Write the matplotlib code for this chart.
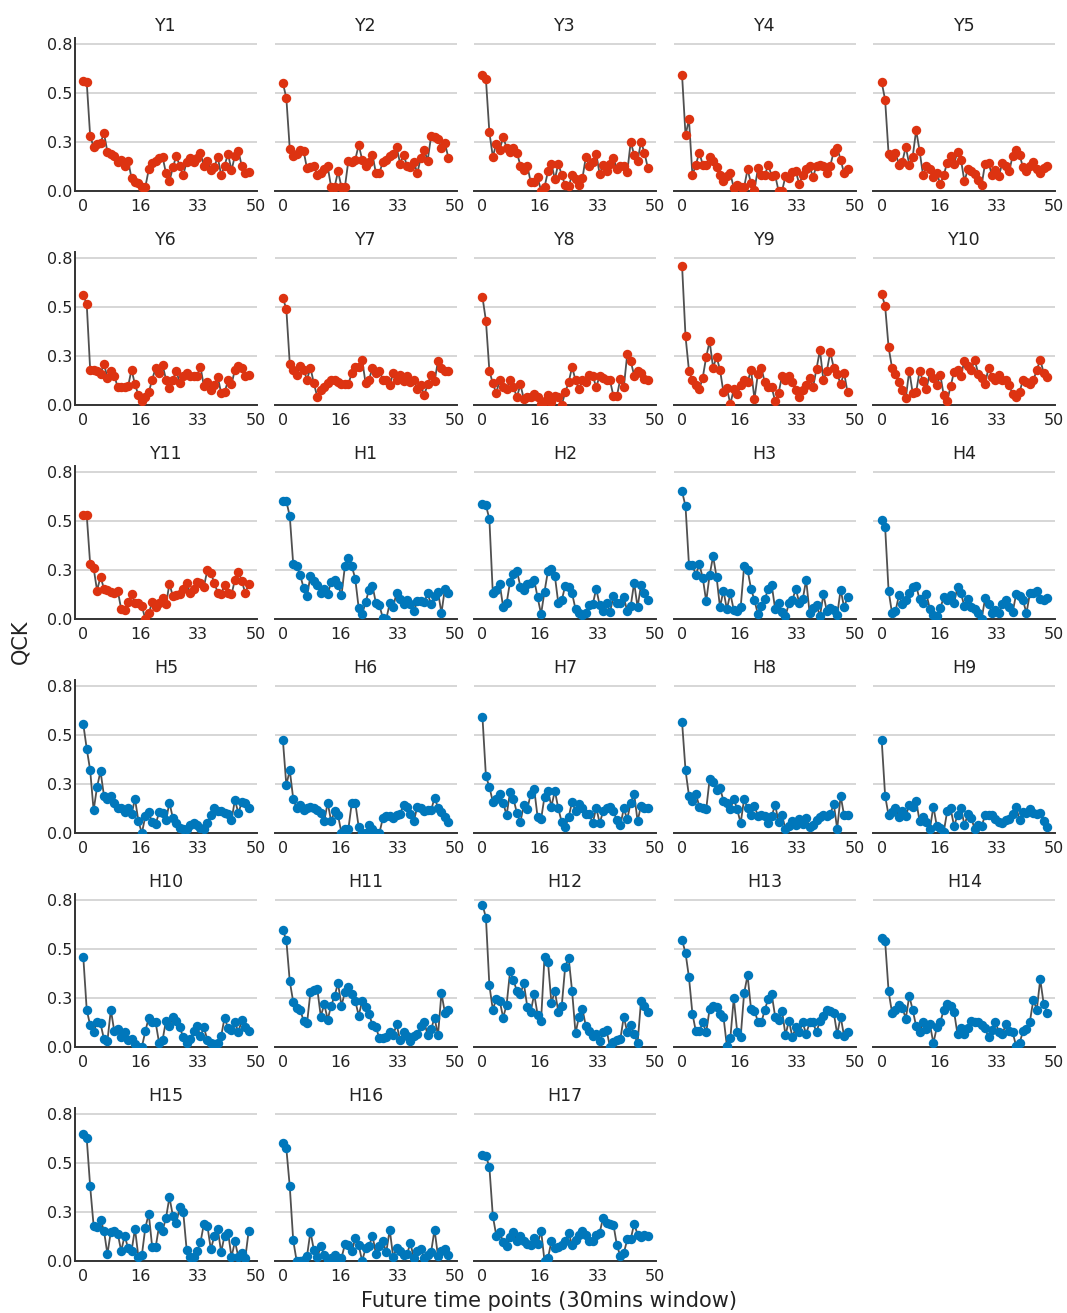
import numpy as np
import matplotlib.pyplot as plt

plt.rcParams['font.family'] = ['DejaVu Sans']

# QCK for future time points 0..48, one list per subject
Y1 = [0.56, 0.555, 0.28, 0.225, 0.24, 0.245, 0.295, 0.20, 0.19, 0.18,
      0.15, 0.16, 0.125, 0.155, 0.065, 0.045, 0.04, 0.02, 0.02, 0.11,
      0.145, 0.155, 0.17, 0.175, 0.09, 0.05, 0.12, 0.18, 0.125, 0.08,
      0.15, 0.17, 0.15, 0.17, 0.195, 0.125, 0.155, 0.105, 0.12, 0.175,
      0.08, 0.13, 0.19, 0.105, 0.18, 0.205, 0.125, 0.09, 0.095]
Y2 = [0.55, 0.475, 0.215, 0.18, 0.19, 0.21, 0.205, 0.115, 0.12, 0.13,
      0.08, 0.09, 0.11, 0.125, 0.02, 0.02, 0.10, 0.02, 0.02, 0.155,
      0.15, 0.16, 0.235, 0.16, 0.13, 0.15, 0.185, 0.09, 0.09, 0.15,
      0.16, 0.18, 0.19, 0.225, 0.14, 0.185, 0.13, 0.12, 0.15, 0.09,
      0.17, 0.21, 0.155, 0.28, 0.275, 0.265, 0.22, 0.245, 0.17]
Y3 = [0.59, 0.57, 0.30, 0.175, 0.24, 0.21, 0.275, 0.22, 0.20, 0.22,
      0.195, 0.13, 0.105, 0.13, 0.045, 0.045, 0.07, 0.0, 0.02, 0.10,
      0.14, 0.06, 0.14, 0.08, 0.03, 0.025, 0.08, 0.06, 0.03, 0.065,
      0.175, 0.125, 0.15, 0.19, 0.085, 0.135, 0.10, 0.14, 0.17, 0.11,
      0.13, 0.13, 0.095, 0.25, 0.185, 0.155, 0.25, 0.195, 0.115]
Y4 = [0.59, 0.285, 0.365, 0.08, 0.135, 0.195, 0.135, 0.135, 0.175, 0.155,
      0.12, 0.08, 0.05, 0.075, 0.09, 0.015, 0.03, 0.02, 0.02, 0.11,
      0.04, 0.005, 0.115, 0.08, 0.08, 0.135, 0.075, 0.08, 0.0, 0.0,
      0.075, 0.065, 0.095, 0.10, 0.035, 0.08, 0.11, 0.125, 0.07, 0.13,
      0.135, 0.13, 0.09, 0.13, 0.20, 0.22, 0.16, 0.09, 0.11]
Y5 = [0.555, 0.465, 0.19, 0.175, 0.195, 0.135, 0.15, 0.225, 0.135, 0.175,
      0.31, 0.205, 0.08, 0.125, 0.11, 0.07, 0.09, 0.035, 0.08, 0.145,
      0.18, 0.14, 0.20, 0.16, 0.05, 0.11, 0.10, 0.085, 0.055, 0.03,
      0.14, 0.145, 0.08, 0.105, 0.075, 0.145, 0.125, 0.10, 0.18, 0.21,
      0.185, 0.12, 0.10, 0.13, 0.15, 0.11, 0.09, 0.115, 0.13]
Y6 = [0.56, 0.515, 0.18, 0.18, 0.175, 0.16, 0.21, 0.14, 0.175, 0.15,
      0.09, 0.09, 0.09, 0.095, 0.18, 0.105, 0.05, 0.02, 0.04, 0.065,
      0.13, 0.19, 0.165, 0.205, 0.13, 0.085, 0.13, 0.175, 0.11, 0.15,
      0.165, 0.15, 0.15, 0.15, 0.195, 0.095, 0.115, 0.075, 0.10, 0.145,
      0.06, 0.065, 0.125, 0.105, 0.18, 0.20, 0.19, 0.15, 0.155]
Y7 = [0.545, 0.49, 0.21, 0.18, 0.155, 0.20, 0.18, 0.13, 0.19, 0.11,
      0.04, 0.075, 0.09, 0.11, 0.125, 0.125, 0.115, 0.105, 0.105, 0.105,
      0.165, 0.195, 0.195, 0.23, 0.11, 0.13, 0.19, 0.165, 0.175, 0.13,
      0.13, 0.10, 0.165, 0.13, 0.155, 0.12, 0.15, 0.115, 0.13, 0.08,
      0.10, 0.05, 0.105, 0.155, 0.12, 0.225, 0.19, 0.175, 0.175]
Y8 = [0.55, 0.43, 0.175, 0.11, 0.06, 0.13, 0.09, 0.08, 0.13, 0.09,
      0.04, 0.105, 0.03, 0.04, 0.04, 0.055, 0.04, 0.005, 0.02, 0.05,
      0.015, 0.045, 0.04, 0.0, 0.065, 0.115, 0.195, 0.125, 0.08, 0.125,
      0.115, 0.155, 0.15, 0.09, 0.15, 0.14, 0.13, 0.125, 0.045, 0.045,
      0.135, 0.09, 0.26, 0.225, 0.15, 0.175, 0.165, 0.135, 0.13]
Y9 = [0.71, 0.35, 0.175, 0.125, 0.10, 0.08, 0.14, 0.245, 0.325, 0.19,
      0.245, 0.18, 0.065, 0.085, 0.005, 0.08, 0.055, 0.10, 0.125, 0.115,
      0.18, 0.03, 0.16, 0.19, 0.115, 0.09, 0.09, 0.02, 0.06, 0.15,
      0.125, 0.15, 0.115, 0.075, 0.04, 0.075, 0.10, 0.14, 0.09, 0.185,
      0.28, 0.125, 0.175, 0.27, 0.19, 0.16, 0.105, 0.165, 0.065]
Y10 = [0.565, 0.505, 0.295, 0.19, 0.16, 0.115, 0.075, 0.035, 0.175, 0.06,
       0.065, 0.175, 0.12, 0.08, 0.17, 0.14, 0.10, 0.155, 0.05, 0.02,
       0.095, 0.17, 0.18, 0.15, 0.225, 0.20, 0.18, 0.23, 0.16, 0.14,
       0.105, 0.19, 0.145, 0.125, 0.155, 0.125, 0.13, 0.10, 0.055, 0.04,
       0.065, 0.13, 0.115, 0.105, 0.125, 0.18, 0.23, 0.165, 0.145]
Y11 = [0.53, 0.53, 0.28, 0.26, 0.145, 0.215, 0.155, 0.15, 0.14, 0.135,
       0.145, 0.05, 0.045, 0.085, 0.125, 0.08, 0.08, 0.065, 0.0, 0.03,
       0.085, 0.06, 0.08, 0.105, 0.075, 0.18, 0.115, 0.12, 0.125, 0.155,
       0.185, 0.13, 0.155, 0.19, 0.185, 0.165, 0.25, 0.235, 0.185, 0.135,
       0.125, 0.175, 0.135, 0.125, 0.20, 0.24, 0.195, 0.13, 0.18]
H1 = [0.60, 0.60, 0.525, 0.28, 0.27, 0.225, 0.16, 0.115, 0.22, 0.195,
      0.175, 0.135, 0.155, 0.125, 0.19, 0.20, 0.175, 0.12, 0.27, 0.31,
      0.27, 0.205, 0.055, 0.025, 0.085, 0.15, 0.17, 0.08, 0.07, 0.005,
      0.0, 0.08, 0.06, 0.135, 0.10, 0.075, 0.095, 0.075, 0.04, 0.09,
      0.09, 0.085, 0.13, 0.075, 0.115, 0.14, 0.03, 0.155, 0.13]
H2 = [0.585, 0.58, 0.51, 0.13, 0.15, 0.18, 0.06, 0.08, 0.19, 0.23,
      0.245, 0.165, 0.15, 0.18, 0.185, 0.20, 0.11, 0.025, 0.14, 0.245,
      0.255, 0.22, 0.08, 0.095, 0.17, 0.165, 0.13, 0.05, 0.03, 0.02,
      0.03, 0.07, 0.075, 0.155, 0.07, 0.04, 0.08, 0.035, 0.115, 0.08,
      0.08, 0.11, 0.04, 0.065, 0.185, 0.06, 0.175, 0.135, 0.095]
H3 = [0.65, 0.575, 0.275, 0.275, 0.225, 0.28, 0.21, 0.09, 0.225, 0.32,
      0.215, 0.06, 0.145, 0.05, 0.13, 0.045, 0.04, 0.06, 0.27, 0.25,
      0.155, 0.095, 0.025, 0.065, 0.10, 0.155, 0.175, 0.05, 0.08, 0.035,
      0.015, 0.08, 0.095, 0.155, 0.08, 0.10, 0.20, 0.03, 0.055, 0.07,
      0.015, 0.125, 0.04, 0.055, 0.045, 0.02, 0.15, 0.06, 0.11]
H4 = [0.505, 0.47, 0.145, 0.03, 0.04, 0.12, 0.075, 0.095, 0.135, 0.165,
      0.17, 0.10, 0.08, 0.125, 0.05, 0.02, 0.015, 0.055, 0.11, 0.095,
      0.12, 0.08, 0.165, 0.13, 0.065, 0.10, 0.06, 0.05, 0.03, 0.0,
      0.105, 0.075, 0.03, 0.045, 0.03, 0.075, 0.095, 0.06, 0.035, 0.125,
      0.115, 0.095, 0.03, 0.13, 0.13, 0.145, 0.10, 0.095, 0.105]
H5 = [0.555, 0.43, 0.32, 0.115, 0.235, 0.315, 0.19, 0.175, 0.19, 0.155,
      0.125, 0.13, 0.105, 0.13, 0.095, 0.175, 0.06, 0.0, 0.085, 0.105,
      0.055, 0.045, 0.105, 0.10, 0.065, 0.155, 0.075, 0.05, 0.025, 0.02,
      0.02, 0.04, 0.05, 0.04, 0.025, 0.02, 0.05, 0.09, 0.125, 0.11,
      0.11, 0.10, 0.095, 0.065, 0.17, 0.10, 0.16, 0.155, 0.13]
H6 = [0.475, 0.245, 0.32, 0.175, 0.125, 0.145, 0.115, 0.125, 0.135, 0.13,
      0.115, 0.10, 0.06, 0.155, 0.06, 0.11, 0.09, 0.0, 0.02, 0.02,
      0.155, 0.155, 0.03, 0.0, 0.0, 0.04, 0.02, 0.0, 0.0, 0.075,
      0.085, 0.085, 0.075, 0.09, 0.095, 0.145, 0.135, 0.095, 0.06, 0.135,
      0.125, 0.11, 0.115, 0.115, 0.18, 0.13, 0.105, 0.08, 0.055]
H7 = [0.59, 0.29, 0.235, 0.16, 0.175, 0.20, 0.155, 0.09, 0.21, 0.175,
      0.10, 0.055, 0.145, 0.12, 0.20, 0.225, 0.08, 0.07, 0.185, 0.215,
      0.135, 0.215, 0.125, 0.055, 0.03, 0.08, 0.16, 0.11, 0.15, 0.125,
      0.095, 0.095, 0.05, 0.13, 0.05, 0.11, 0.125, 0.135, 0.11, 0.065,
      0.04, 0.125, 0.07, 0.155, 0.20, 0.06, 0.14, 0.13, 0.13]
H8 = [0.565, 0.32, 0.19, 0.165, 0.20, 0.135, 0.13, 0.12, 0.275, 0.26,
      0.22, 0.23, 0.165, 0.155, 0.12, 0.175, 0.12, 0.05, 0.175, 0.125,
      0.09, 0.14, 0.085, 0.09, 0.085, 0.05, 0.085, 0.145, 0.055, 0.09,
      0.02, 0.035, 0.06, 0.04, 0.07, 0.045, 0.075, 0.03, 0.04, 0.065,
      0.08, 0.09, 0.085, 0.095, 0.15, 0.02, 0.19, 0.09, 0.09]
H9 = [0.475, 0.19, 0.09, 0.105, 0.125, 0.08, 0.11, 0.085, 0.145, 0.135,
      0.165, 0.06, 0.08, 0.055, 0.02, 0.135, 0.035, 0.025, 0.005, 0.11,
      0.125, 0.035, 0.09, 0.13, 0.04, 0.095, 0.075, 0.02, 0.04, 0.035,
      0.09, 0.09, 0.09, 0.07, 0.055, 0.05, 0.065, 0.07, 0.095, 0.135,
      0.065, 0.105, 0.10, 0.12, 0.10, 0.095, 0.10, 0.06, 0.03]
H10 = [0.46, 0.19, 0.11, 0.075, 0.13, 0.12, 0.04, 0.03, 0.19, 0.08,
       0.09, 0.05, 0.075, 0.035, 0.04, 0.015, 0.0, 0.0, 0.08, 0.15,
       0.125, 0.125, 0.02, 0.035, 0.135, 0.105, 0.155, 0.135, 0.10, 0.05,
       0.02, 0.04, 0.08, 0.105, 0.055, 0.10, 0.035, 0.02, 0.015, 0.02,
       0.055, 0.15, 0.095, 0.085, 0.125, 0.075, 0.14, 0.10, 0.08]
H11 = [0.595, 0.545, 0.335, 0.23, 0.20, 0.19, 0.135, 0.12, 0.28, 0.29,
       0.295, 0.155, 0.22, 0.14, 0.21, 0.26, 0.325, 0.21, 0.28, 0.305,
       0.27, 0.235, 0.16, 0.235, 0.205, 0.17, 0.11, 0.10, 0.045, 0.045,
       0.05, 0.075, 0.06, 0.115, 0.035, 0.075, 0.055, 0.03, 0.055, 0.065,
       0.105, 0.13, 0.06, 0.09, 0.15, 0.06, 0.275, 0.175, 0.19]
H12 = [0.725, 0.66, 0.315, 0.19, 0.245, 0.235, 0.15, 0.215, 0.385, 0.34,
       0.285, 0.27, 0.325, 0.205, 0.18, 0.27, 0.165, 0.135, 0.46, 0.435,
       0.225, 0.285, 0.18, 0.21, 0.41, 0.455, 0.285, 0.07, 0.155, 0.195,
       0.105, 0.08, 0.055, 0.065, 0.03, 0.075, 0.085, 0.0, 0.025, 0.035,
       0.04, 0.155, 0.075, 0.11, 0.065, 0.02, 0.235, 0.21, 0.18]
H13 = [0.545, 0.48, 0.355, 0.17, 0.08, 0.08, 0.125, 0.075, 0.195, 0.21,
       0.205, 0.17, 0.155, 0.005, 0.045, 0.25, 0.075, 0.05, 0.275, 0.365,
       0.195, 0.185, 0.13, 0.125, 0.19, 0.245, 0.27, 0.155, 0.14, 0.185,
       0.06, 0.135, 0.05, 0.10, 0.075, 0.125, 0.065, 0.125, 0.125, 0.075,
       0.135, 0.16, 0.19, 0.185, 0.175, 0.065, 0.155, 0.055, 0.075]
H14 = [0.555, 0.54, 0.285, 0.175, 0.19, 0.215, 0.20, 0.145, 0.26, 0.19,
       0.105, 0.075, 0.13, 0.09, 0.115, 0.02, 0.10, 0.125, 0.19, 0.22,
       0.21, 0.18, 0.065, 0.095, 0.065, 0.095, 0.135, 0.125, 0.125, 0.11,
       0.095, 0.05, 0.085, 0.13, 0.075, 0.065, 0.115, 0.08, 0.075, 0.005,
       0.02, 0.08, 0.09, 0.13, 0.24, 0.19, 0.345, 0.22, 0.175]
H15 = [0.65, 0.625, 0.38, 0.18, 0.175, 0.21, 0.155, 0.035, 0.15, 0.155,
       0.14, 0.05, 0.13, 0.065, 0.05, 0.165, 0.02, 0.03, 0.17, 0.24,
       0.07, 0.07, 0.18, 0.155, 0.22, 0.325, 0.23, 0.195, 0.275, 0.25,
       0.055, 0.02, 0.02, 0.05, 0.095, 0.19, 0.18, 0.06, 0.125, 0.165,
       0.045, 0.13, 0.145, 0.02, 0.10, 0.02, 0.04, 0.015, 0.155]
H16 = [0.60, 0.575, 0.38, 0.105, 0.0, 0.0, 0.005, 0.025, 0.15, 0.055,
       0.02, 0.075, 0.03, 0.005, 0.015, 0.03, 0.005, 0.015, 0.085, 0.08,
       0.05, 0.115, 0.08, 0.0, 0.065, 0.075, 0.13, 0.035, 0.075, 0.10,
       0.045, 0.16, 0.02, 0.065, 0.05, 0.03, 0.035, 0.09, 0.015, 0.05,
       0.06, 0.015, 0.03, 0.045, 0.16, 0.025, 0.05, 0.06, 0.03]
H17 = [0.54, 0.535, 0.48, 0.23, 0.13, 0.15, 0.095, 0.075, 0.12, 0.15,
       0.10, 0.13, 0.10, 0.085, 0.08, 0.115, 0.085, 0.155, 0.0, 0.015,
       0.10, 0.065, 0.07, 0.08, 0.10, 0.145, 0.08, 0.105, 0.135, 0.155,
       0.135, 0.10, 0.10, 0.135, 0.145, 0.22, 0.195, 0.19, 0.185, 0.08,
       0.025, 0.04, 0.11, 0.11, 0.19, 0.135, 0.12, 0.135, 0.125]

panel_names = ["Y1", "Y2", "Y3", "Y4", "Y5", "Y6", "Y7", "Y8", "Y9", "Y10", "Y11",
               "H1", "H2", "H3", "H4", "H5", "H6", "H7", "H8", "H9", "H10",
               "H11", "H12", "H13", "H14", "H15", "H16", "H17"]
panel_values = [Y1, Y2, Y3, Y4, Y5, Y6, Y7, Y8, Y9, Y10, Y11,
                H1, H2, H3, H4, H5, H6, H7, H8, H9, H10,
                H11, H12, H13, H14, H15, H16, H17]

y_ticks = [0.0, 0.25, 0.5, 0.75]
y_ticklabels = ["0.0", "0.3", "0.5", "0.8"]
x_ticks = [0, 50 / 3, 100 / 3, 50]
x_ticklabels = ["0", "16", "33", "50"]

red = "#DD3311"
blue = "#0077BB"
txt = "#222222"

W, H = 1067, 1313
fig = plt.figure(figsize=(W / 100, H / 100), dpi=100)

for i, (name, vals) in enumerate(zip(panel_names, panel_values)):
    r, c = divmod(i, 5)
    left = 75 + 199.6 * c
    bottom = 191 + 214 * r
    ax = fig.add_axes([left / W, 1 - bottom / H, 182 / W, 153 / H])
    x = np.arange(len(vals))
    col = red if name.startswith("Y") else blue
    ax.plot(x, vals, color="#505050", lw=1.3, zorder=2)
    ax.plot(x, vals, "o", color=col, ms=6.8, mec="none", zorder=3)

    ax.set_xlim(-2.4, 50.4)
    ax.set_ylim(0, 0.78)
    ax.set_yticks(y_ticks)
    ax.set_yticklabels(y_ticklabels)
    ax.set_xticks(x_ticks)
    ax.set_xticklabels(x_ticklabels)
    ax.grid(axis="y", color="#cccccc", lw=1.1)
    ax.set_axisbelow(True)
    ax.tick_params(length=0, labelsize=11.5, colors=txt)
    ax.tick_params(axis="x", pad=5.5)
    ax.tick_params(axis="y", pad=2)
    for s in ["top", "right"]:
        ax.spines[s].set_visible(False)
    ax.spines["bottom"].set_color("#333333")
    ax.spines["bottom"].set_linewidth(1.4)
    if c == 0:
        ax.spines["left"].set_color("#333333")
        ax.spines["left"].set_linewidth(1.4)
    else:
        ax.spines["left"].set_visible(False)
        ax.tick_params(labelleft=False)
    ax.set_title(name, fontsize=12.5, color=txt, pad=5)

fig.text(549 / W, 1 - 1301 / H, "Future time points (30mins window)",
         ha="center", va="center", fontsize=15, color=txt)
fig.text(20 / W, 1 - 642 / H, "QCK", rotation=90,
         ha="center", va="center", fontsize=15, color=txt)

fig.savefig("out.png", dpi=100)
